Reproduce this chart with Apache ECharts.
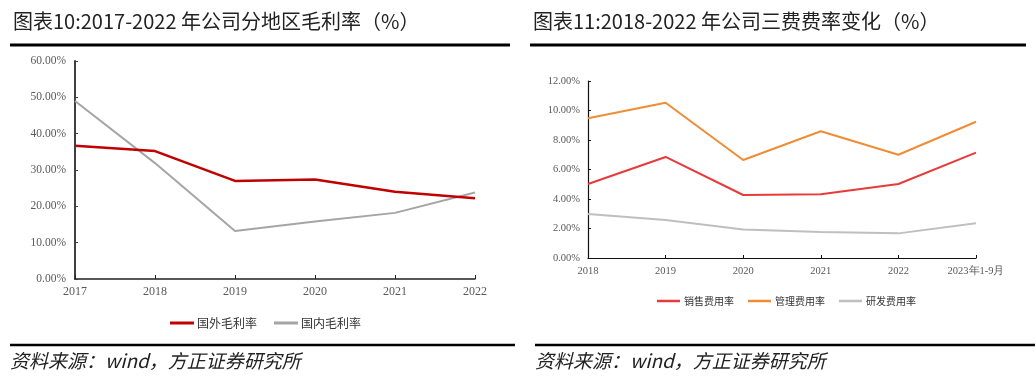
<!DOCTYPE html>
<html>
<head>
<meta charset="utf-8">
<script src="https://cdn.jsdelivr.net/npm/echarts@6/dist/echarts.min.js"></script>
<style>
html,body{margin:0;padding:0;background:#fff;}
#c{width:1036px;height:379px;}
</style>
</head>
<body>
<div id="c"></div>
<script>
// Left chart data
var leftYears = ['2017', '2018', '2019', '2020', '2021', '2022'];
var foreignMargin = [36.7, 35.2, 27.0, 27.4, 24.0, 22.2];
var domesticMargin = [49.0, 31.9, 13.2, 15.8, 18.2, 23.8];
var leftNames = ['国外毛利率', '国内毛利率'];

// Right chart data
var rightYears = ['2018', '2019', '2020', '2021', '2022', '2023年1-9月'];
var salesRate = [5.02, 6.85, 4.27, 4.32, 5.02, 7.14];
var adminRate = [9.47, 10.53, 6.64, 8.59, 7.00, 9.24];
var rdRate = [2.98, 2.58, 1.94, 1.76, 1.67, 2.35];
var rightNames = ['销售费用率', '管理费用率', '研发费用率'];

var titles = ['图表10:2017-2022 年公司分地区毛利率（%）', '图表11:2018-2022 年公司三费费率变化（%）'];
var footer = '资料来源：wind，方正证券研究所';

var serif = '"Liberation Serif", "Times New Roman", serif';
var cjk = '"Noto Sans CJK SC", sans-serif';

var chart = echarts.init(document.getElementById('c'), null, {renderer: 'canvas'});

function pct(v) { return v.toFixed(2) + '%'; }

var option = {
  animation: false,
  backgroundColor: '#fff',
  grid: [
    {left: 75, top: 61, width: 400, height: 218, containLabel: false},
    {left: 588, top: 81, width: 388, height: 177, containLabel: false}
  ],
  legend: [
    {
      data: leftNames, left: 165, top: 312, itemWidth: 24, itemHeight: 3, itemGap: 17,
      icon: 'rect',
      textStyle: {fontFamily: cjk, fontSize: 12, color: '#333', padding: [0, 0, 0, -2]}
    },
    {
      data: rightNames, left: 652, top: 291, itemWidth: 23, itemHeight: 2.5, itemGap: 14,
      icon: 'rect',
      textStyle: {fontFamily: cjk, fontSize: 10, color: '#333', padding: [0, 0, 0, -1]}
    }
  ],
  xAxis: [
    {
      type: 'category', gridIndex: 0, data: leftYears, boundaryGap: false,
      axisLine: {lineStyle: {color: '#222', width: 1.5}},
      axisTick: {inside: true, length: 4, lineStyle: {color: '#222'}},
      axisLabel: {fontFamily: serif, fontSize: 12, color: '#595959', margin: 7}
    },
    {
      type: 'category', gridIndex: 1, data: rightYears, boundaryGap: false,
      axisLine: {lineStyle: {color: '#111', width: 1.2}},
      axisTick: {inside: true, length: 3, lineStyle: {color: '#111'}},
      axisLabel: {fontFamily: serif, fontSize: 10.5, color: '#595959', margin: 8}
    }
  ],
  yAxis: [
    {
      type: 'value', gridIndex: 0, min: 0, max: 60, interval: 10,
      axisLine: {show: true, lineStyle: {color: '#404040', width: 2}},
      axisTick: {show: true, inside: true, length: 3, lineStyle: {color: '#404040'}},
      splitLine: {show: false},
      axisLabel: {fontFamily: serif, fontSize: 11.5, color: '#595959', margin: 9, formatter: pct}
    },
    {
      type: 'value', gridIndex: 1, min: 0, max: 12, interval: 2,
      axisLine: {show: true, lineStyle: {color: '#111', width: 1.2}},
      axisTick: {show: true, inside: true, length: 3, lineStyle: {color: '#111'}},
      splitLine: {show: false},
      axisLabel: {fontFamily: serif, fontSize: 10.5, color: '#595959', margin: 8, formatter: pct}
    }
  ],
  series: [
    {name: leftNames[0], type: 'line', xAxisIndex: 0, yAxisIndex: 0, data: foreignMargin,
     symbol: 'none', lineStyle: {color: '#C00000', width: 2.5}, itemStyle: {color: '#C00000'}, z: 3},
    {name: leftNames[1], type: 'line', xAxisIndex: 0, yAxisIndex: 0, data: domesticMargin,
     symbol: 'none', lineStyle: {color: '#A5A5A5', width: 2}, itemStyle: {color: '#A5A5A5'}, z: 2},
    {name: rightNames[0], type: 'line', xAxisIndex: 1, yAxisIndex: 1, data: salesRate,
     symbol: 'none', lineStyle: {color: '#E83A3A', width: 2}, itemStyle: {color: '#E83A3A'}},
    {name: rightNames[1], type: 'line', xAxisIndex: 1, yAxisIndex: 1, data: adminRate,
     symbol: 'none', lineStyle: {color: '#F08C36', width: 2}, itemStyle: {color: '#F08C36'}},
    {name: rightNames[2], type: 'line', xAxisIndex: 1, yAxisIndex: 1, data: rdRate,
     symbol: 'none', lineStyle: {color: '#BFBFBF', width: 2}, itemStyle: {color: '#BFBFBF'}}
  ],
  graphic: [
    {type: 'text', left: 13, top: 11, style: {text: titles[0], font: '20px ' + cjk, fill: '#222'}},
    {type: 'text', left: 533, top: 11, style: {text: titles[1], font: '20px ' + cjk, fill: '#222'}},
    {type: 'line', shape: {x1: 10, y1: 45, x2: 510, y2: 45}, style: {stroke: '#000', lineWidth: 3}},
    {type: 'line', shape: {x1: 530, y1: 45, x2: 1026, y2: 45}, style: {stroke: '#000', lineWidth: 3}},
    {type: 'line', shape: {x1: 10, y1: 345, x2: 515, y2: 345}, style: {stroke: '#000', lineWidth: 2.5}},
    {type: 'line', shape: {x1: 535, y1: 345, x2: 1035, y2: 345}, style: {stroke: '#000', lineWidth: 2.5}},
    {type: 'text', left: 10, top: 351, style: {text: footer, font: 'italic 19px ' + cjk, fill: '#222'}},
    {type: 'text', left: 535, top: 351, style: {text: footer, font: 'italic 19px ' + cjk, fill: '#222'}}
  ]
};
chart.setOption(option);
</script>
</body>
</html>
